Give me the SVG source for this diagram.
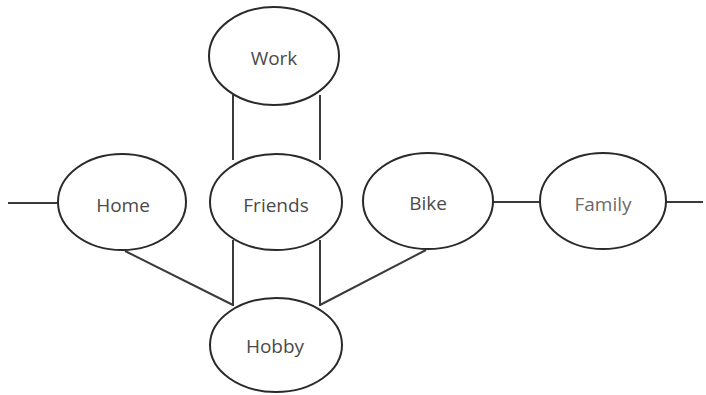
<svg xmlns="http://www.w3.org/2000/svg" width="706" height="395" viewBox="0 0 706 395">
<style>
.n{fill:#fff;stroke:#2a2a2a;stroke-width:2}
.c{stroke:#3a3a3a;stroke-width:2;fill:none}
.t{font-family:"Open Sans","Liberation Sans",sans-serif;font-size:19px;fill:#4a4a4a;text-anchor:middle}
</style>
<rect width="706" height="395" fill="#fff"/>
<g id="connectors">
<line class="c" x1="233" y1="95" x2="233" y2="160"/>
<line class="c" x1="320" y1="95" x2="320" y2="160"/>
<line class="c" x1="233" y1="240" x2="233" y2="306"/>
<line class="c" x1="320" y1="240" x2="320" y2="306"/>
<line class="c" x1="125" y1="251" x2="233" y2="305"/>
<line class="c" x1="426" y1="250" x2="320" y2="305"/>
<line class="c" x1="8" y1="203" x2="59" y2="203"/>
<line class="c" x1="492" y1="202" x2="540" y2="202"/>
<line class="c" x1="666" y1="202" x2="703" y2="202"/>
</g>
<g id="work"><ellipse class="n" cx="274" cy="56" rx="65" ry="49"/><text class="t" x="274" y="65">Work</text></g>
<g id="home"><ellipse class="n" cx="122" cy="202" rx="64" ry="48"/><text class="t" x="123" y="212">Home</text></g>
<g id="friends"><ellipse class="n" cx="276" cy="202" rx="66" ry="48"/><text class="t" x="276" y="212">Friends</text></g>
<g id="bike"><ellipse class="n" cx="428" cy="201" rx="65" ry="48"/><text class="t" x="428" y="210">Bike</text></g>
<g id="family"><ellipse class="n" cx="603" cy="201" rx="63" ry="48"/><text class="t" x="603" y="211" style="fill:#6a6a6a">Family</text></g>
<g id="hobby"><ellipse class="n" cx="276" cy="345" rx="66" ry="47"/><text class="t" x="275" y="353">Hobby</text></g>
</svg>
